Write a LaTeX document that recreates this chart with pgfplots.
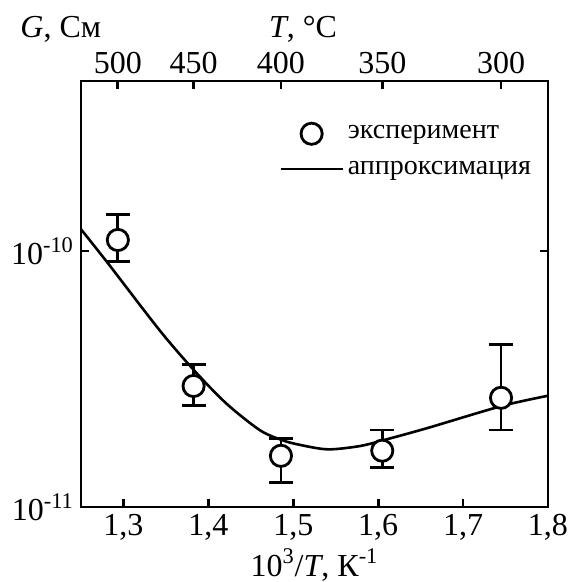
\documentclass[border=0pt]{standalone}
\usepackage{pgfplots}
\usepackage{pgfplotstable}
\pgfplotsset{compat=1.18}
\usepackage{fontspec}
\setmainfont{Liberation Serif}

% longer legend samples, the mark in the middle
\pgfplotsset{legend image code/.code={%
  \draw[mark repeat=2, mark phase=2, #1]
    plot coordinates {(0pt,0pt) (15.5pt,0pt) (31pt,0pt)};}}

% experiment: 1000/(T+273.15) for T = 500, 450, 400, 350, 300 C
\pgfplotstableread{
x       y          ep        em
1.2934  1.104e-10  2.86e-11  1.96e-11
1.3826  2.97e-11   0.64e-11  0.47e-11
1.4855  1.585e-11  0.27e-11  0.335e-11
1.6048  1.66e-11   0.34e-11  0.23e-11
1.7447  2.67e-11   1.65e-11  0.67e-11
}\expdata

% approximation curve
\pgfplotstableread{
x       y
1.25    1.216e-10
1.2834  8.81e-11
1.3424  4.91e-11
1.3828  3.43e-11
1.421   2.54e-11
1.4603  2.00e-11
1.4859  1.83e-11
1.5075  1.75e-11
1.5409  1.68e-11
1.5783  1.73e-11
1.605   1.82e-11
1.657   2.03e-11
1.7454  2.48e-11
1.8     2.72e-11
}\fitdata

\begin{document}
\begin{tikzpicture}[font=\fontsize{16}{19}\selectfont]
\begin{axis}[
    name=main,
    width=233.5pt, height=213pt, scale only axis,
    xmin=1.25, xmax=1.8,
    ymode=log, ymin=1e-11, ymax=4.61e-10,
    tick align=inside, major tick length=4pt,
    axis line style={line width=1.4pt},
    tick style={line width=1.4pt, black},
    xtick={1.3,1.4,1.5,1.6,1.7,1.8},
    xticklabels={{1,3},{1,4},{1,5},{1,6},{1,7},{1,8}},
    xtick pos=bottom,
    ytick={1e-11,1e-10},
    yticklabels={10\textsuperscript{-11},10\textsuperscript{-10}},
    ytick pos=both, yticklabel pos=left,
    yminorticks=false,
    legend cell align=left,
    legend style={draw=none, fill=none, at={(rel axis cs:0.411,0.915)},
      anchor=north west, row sep=5.5pt, font=\fontsize{14}{17}\selectfont},
]
  \addplot[line width=1.3pt, smooth, forget plot] table[x=x, y=y] {\fitdata};
  \addplot[draw=none, forget plot,
    error bars/.cd, y dir=both, y explicit,
    error bar style={draw=black, line width=1.4pt},
    error mark options={rotate=90, mark size=6pt, line width=1.4pt}]
    table[x=x, y=y, y error plus=ep, y error minus=em] {\expdata};
  \addplot[only marks, mark=*, mark size=5.3pt,
    mark options={fill=white, draw=black, line width=1.4pt}]
    table[x=x, y=y] {\expdata};
  \addlegendentry{эксперимент}
  \addlegendimage{line width=1.3pt, black}
  \addlegendentry{аппроксимация}
\end{axis}
\begin{axis}[
    width=233.5pt, height=213pt, scale only axis,
    xmin=1.25, xmax=1.8,
    ymin=0, ymax=1,
    tick align=inside, major tick length=4pt,
    axis line style={line width=1.4pt},
    tick style={line width=1.4pt, black},
    axis x line*=top, axis y line=none,
    xtick={1.2934,1.3826,1.4855,1.6048,1.7447},
    xticklabels={500,450,400,350,300},
]
\end{axis}
\node[anchor=base west, inner sep=0pt] at ([shift={(-30.5pt,22pt)}]main.north west)
  {\textit{G}, См};
\node[anchor=base, inner sep=0pt] at ([shift={(111pt,22pt)}]main.north west)
  {\textit{T}, °C};
\node[anchor=base] at ([yshift=-34.5pt]main.south)
  {10\textsuperscript{3}/\textit{T}, К\textsuperscript{-1}};
\pgfresetboundingbox
\path ([shift={(-40.5pt,-37.5pt)}]main.south west)
  rectangle ([shift={(10.5pt,40.5pt)}]main.north east);
\end{tikzpicture}
\end{document}
